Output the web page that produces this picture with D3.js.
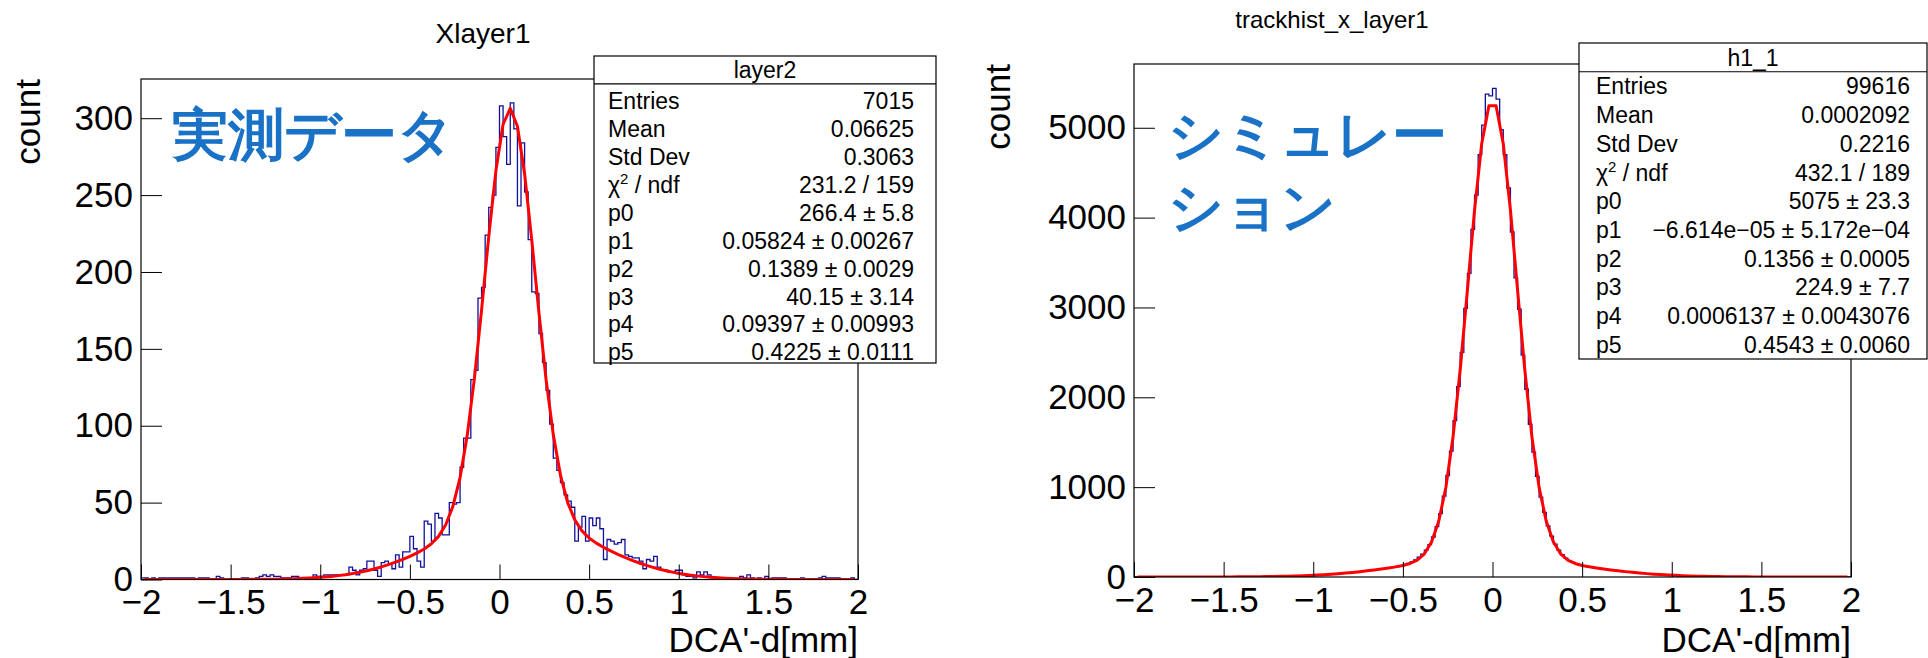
<!DOCTYPE html>
<html>
<head>
<meta charset="utf-8">
<script src="https://cdn.jsdelivr.net/npm/d3@7"></script>
<style>
  html, body { margin: 0; padding: 0; background: #ffffff; }
  svg { display: block; }
  text { font-family: "Liberation Sans", Arial, Helvetica, sans-serif; }
</style>
</head>
<body>
<svg id="chart" width="1928" height="658"></svg>
<script>
// ---------------- data ----------------
const binRange = [-2, 2];

// measured DCA'-d residuals, 200 bins over [-2, 2]
const measuredCounts = [
  1,1,0,1,0,1,1,1,1,1,
  1,1,1,1,1,0,1,1,1,0,
  0,2,1,0,0,0,0,0,1,1,
  0,0,1,2,3,2,3,2,2,1,
  1,1,2,2,1,1,1,1,3,2,
  2,3,3,3,3,3,3,3,8,6,
  3,6,7,12,12,6,2,11,12,10,
  7,16,8,18,18,28,20,12,8,38,
  36,25,43,40,29,29,50,49,50,73,
  92,92,130,136,183,190,224,242,250,281,
  308,288,270,310,293,243,284,252,221,187,
  186,160,141,123,101,79,71,63,55,51,
  47,25,34,41,25,40,35,40,33,13,
  26,25,23,24,26,16,15,14,14,12,
  7,13,12,15,8,6,6,5,5,6,
  6,3,2,2,1,5,3,5,3,1,
  1,0,1,1,1,0,0,2,1,3,
  1,0,1,0,2,0,1,1,1,1,
  0,0,0,0,1,0,0,0,0,1,
  2,1,1,1,1,0,0,0,1,0
];

// simulated DCA'-d residuals, 200 bins over [-2, 2]
const simulatedCounts = [
  0,0,0,0,0,0,0,0,0,0,
  0,0,0,0,1,0,0,0,0,1,
  1,0,0,1,0,1,1,1,2,1,
  2,2,2,3,3,4,4,5,6,7,
  7,8,9,10,11,13,14,15,17,19,
  21,23,25,27,28,33,36,39,43,46,
  49,54,57,63,66,71,75,81,85,90,
  96,101,110,117,126,138,150,168,190,220,
  255,300,360,445,560,705,900,1130,1400,1740,
  2120,2500,2990,3380,3870,4250,4700,5030,5375,5356,
  5438,5320,4980,4700,4330,3840,3330,2980,2470,2090,
  1700,1390,1120,890,720,570,455,365,300,250,
  210,182,163,147,134,124,117,108,102,97,
  90,86,80,75,72,66,61,58,53,50,
  46,42,40,36,33,30,28,25,23,21,
  19,17,16,14,13,11,10,9,8,7,
  6,6,5,4,4,3,3,2,2,2,
  1,2,1,1,1,0,1,0,0,1,
  0,0,1,0,0,0,0,0,0,0,
  0,0,0,0,0,0,0,1,0,0
];

const xTickValues = [-2, -1.5, -1, -0.5, 0, 0.5, 1, 1.5, 2];
const xTickLabels = ["\u22122", "\u22121.5", "\u22121", "\u22120.5", "0", "0.5", "1", "1.5", "2"];
const measuredYTicks = [0, 50, 100, 150, 200, 250, 300];
const simulatedYTicks = [0, 1000, 2000, 3000, 4000, 5000];

// double-gaussian fit parameters p0..p5
const measuredFit = [266.4, 0.05824, 0.1389, 40.15, 0.09397, 0.4225];
const simulatedFit = [5075, -6.614e-05, 0.1356, 224.9, 0.0006137, 0.4543];

const statsLabels = ["Entries", "Mean", "Std Dev", "chi2", "p0", "p1", "p2", "p3", "p4", "p5"];
const measuredStatsValues = ["7015", "0.06625", "0.3063", "231.2 / 159", "266.4 \u00b1 5.8",
  "0.05824 \u00b1 0.00267", "0.1389 \u00b1 0.0029", "40.15 \u00b1 3.14", "0.09397 \u00b1 0.00993", "0.4225 \u00b1 0.0111"];
const simulatedStatsValues = ["99616", "0.0002092", "0.2216", "432.1 / 189", "5075 \u00b1 23.3",
  "\u22126.614e\u221205 \u00b1 5.172e\u221204", "0.1356 \u00b1 0.0005", "224.9 \u00b1 7.7", "0.0006137 \u00b1 0.0043076", "0.4543 \u00b1 0.0060"];

// ---------------- drawing ----------------
const svg = d3.select("#chart");
svg.append("rect").attr("width", 1928).attr("height", 658).attr("fill", "#ffffff");

function doubleGauss(p, x) {
  const a = (x - p[1]) / p[2];
  const b = (x - p[4]) / p[5];
  return p[0] * Math.exp(-0.5 * a * a) + p[3] * Math.exp(-0.5 * b * b);
}

function drawPanel(cfg) {
  const g = svg.append("g");
  const counts = cfg.counts;
  const nb = counts.length;
  const bw = (binRange[1] - binRange[0]) / nb;

  const x = d3.scaleLinear().domain(binRange).range([cfg.left, cfg.right]);
  const y = d3.scaleLinear().domain([0, d3.max(counts) * 1.05]).range([cfg.bottom, cfg.top]);

  const clipId = "clip" + cfg.id;
  svg.append("clipPath").attr("id", clipId)
    .append("rect").attr("x", cfg.left).attr("y", cfg.top)
    .attr("width", cfg.right - cfg.left).attr("height", cfg.bottom - cfg.top);

  // title
  g.append("text").attr("x", cfg.titleX).attr("y", cfg.titleY)
    .attr("text-anchor", "middle").attr("font-size", cfg.titleSize).attr("fill", "#000")
    .text(cfg.title);

  // histogram outline (step contour)
  let d = `M${x(binRange[0])},${y(0)}`;
  counts.forEach((c, i) => {
    d += `V${y(c)}H${x(binRange[0] + (i + 1) * bw)}`;
  });
  d += `V${y(0)}`;
  g.append("path").attr("d", d).attr("clip-path", `url(#${clipId})`)
    .attr("fill", "none").attr("stroke", "#10109a").attr("stroke-width", 1.3);

  // fit curve evaluated at the centres of 100 equal steps across the axis range
  const npx = 100;
  const step = (binRange[1] - binRange[0]) / npx;
  const fx = d3.range(0, npx).map(k => binRange[0] + (k + 0.5) * step);
  const line = d3.line().x(v => x(v)).y(v => y(doubleGauss(cfg.fit, v)));
  g.append("path").attr("d", line(fx)).attr("clip-path", `url(#${clipId})`)
    .attr("fill", "none").attr("stroke", "#ff0000").attr("stroke-width", 3)
    .attr("stroke-linejoin", "round");

  // frame
  g.append("rect").attr("x", cfg.left).attr("y", cfg.top)
    .attr("width", cfg.right - cfg.left).attr("height", cfg.bottom - cfg.top)
    .attr("fill", "none").attr("stroke", "#000").attr("stroke-width", 1.2);

  // x axis: major and minor ticks pointing into the frame
  const xMinor = d3.range(-20, 21).map(k => k / 10);
  const xa = g.append("g").attr("transform", `translate(0,${cfg.bottom})`);
  xa.call(d3.axisBottom(x).tickValues(xMinor).tickSize(-7.5).tickFormat(""));
  xa.call(d3.axisBottom(x).tickValues(xTickValues).tickSize(-15).tickPadding(10)
    .tickFormat((v, i) => xTickLabels[i]));
  xa.select(".domain").remove();
  xa.selectAll("text").attr("font-size", 35).attr("fill", "#000")
    .attr("font-family", "'Liberation Sans', Arial, Helvetica, sans-serif");
  xa.selectAll("line").attr("stroke", "#000");

  // y axis
  const yMax = y.domain()[1];
  const yMinor = d3.range(0, yMax, cfg.yMinorStep);
  const ya = g.append("g").attr("transform", `translate(${cfg.left},0)`);
  ya.call(d3.axisLeft(y).tickValues(yMinor).tickSize(-10.5).tickFormat(""));
  ya.call(d3.axisLeft(y).tickValues(cfg.yTicks).tickSize(-21).tickPadding(8).tickFormat(d3.format("d")));
  ya.select(".domain").remove();
  ya.selectAll("text").attr("font-size", 35).attr("fill", "#000")
    .attr("font-family", "'Liberation Sans', Arial, Helvetica, sans-serif");
  ya.selectAll("line").attr("stroke", "#000");

  // axis titles
  g.append("text").attr("x", cfg.right).attr("y", cfg.xTitleY)
    .attr("text-anchor", "end").attr("font-size", 35).attr("fill", "#000")
    .text("DCA'-d[mm]");
  g.append("text")
    .attr("transform", `translate(${cfg.yTitleX},${cfg.top}) rotate(-90)`)
    .attr("text-anchor", "end").attr("font-size", 35).attr("fill", "#000")
    .text("count");

  // Japanese annotation
  const note = g.append("text").attr("x", cfg.noteX).attr("y", cfg.noteY)
    .attr("font-family", "'Noto Sans CJK JP', sans-serif").attr("font-weight", 700)
    .attr("font-size", cfg.noteSize).attr("fill", "#1a72c7");
  cfg.note.forEach((t, i) => {
    note.append("tspan").attr("x", cfg.noteX).attr("dy", i === 0 ? 0 : cfg.noteLead).text(t);
  });

  // statistics box
  const sb = cfg.stats;
  const bg = g.append("g");
  bg.append("rect").attr("x", sb.x0).attr("y", sb.y0)
    .attr("width", sb.x1 - sb.x0).attr("height", sb.y1 - sb.y0)
    .attr("fill", "#fff").attr("stroke", "#000").attr("stroke-width", 1.2);
  const rowH = (sb.y1 - sb.y0) / (statsLabels.length + 1);
  bg.append("line").attr("x1", sb.x0).attr("x2", sb.x1)
    .attr("y1", sb.y0 + rowH).attr("y2", sb.y0 + rowH)
    .attr("stroke", "#000").attr("stroke-width", 1.2);
  bg.append("text").attr("x", (sb.x0 + sb.x1) / 2).attr("y", sb.y0 + rowH * 0.5)
    .attr("dy", "0.36em").attr("text-anchor", "middle").attr("font-size", sb.font)
    .attr("fill", "#000").text(sb.name);
  statsLabels.forEach((lab, i) => {
    const cy = sb.y0 + rowH * (i + 1.5) + sb.shift;
    const t = bg.append("text").attr("x", sb.x0 + sb.padL).attr("y", cy).attr("dy", "0.36em")
      .attr("font-size", sb.font).attr("fill", "#000");
    if (lab === "chi2") {
      t.append("tspan").text("\u03c7");
      t.append("tspan").attr("font-size", sb.font * 0.65).attr("dy", -sb.font * 0.38).text("2");
      t.append("tspan").attr("dy", sb.font * 0.38).text(" / ndf");
    } else {
      t.text(lab);
    }
    bg.append("text").attr("x", sb.x1 - sb.padR).attr("y", cy).attr("dy", "0.36em")
      .attr("text-anchor", "end").attr("font-size", sb.font).attr("fill", "#000")
      .text(sb.values[i]);
  });
}

drawPanel({
  id: "meas", counts: measuredCounts, fit: measuredFit,
  left: 141, right: 858, top: 79, bottom: 579.5,
  yTicks: measuredYTicks, yMinorStep: 10,
  title: "Xlayer1", titleX: 483, titleY: 43, titleSize: 28,
  xTitleY: 652, yTitleX: 40,
  note: ["\u5b9f\u6e2c\u30c7\u30fc\u30bf"], noteX: 172, noteY: 154, noteSize: 56, noteLead: 0,
  stats: { x0: 594, x1: 936, y0: 56, y1: 363, name: "layer2", values: measuredStatsValues,
           font: 23, padL: 14, padR: 22, shift: 3 }
});

drawPanel({
  id: "sim", counts: simulatedCounts, fit: simulatedFit,
  left: 1134, right: 1851, top: 64, bottom: 577,
  yTicks: simulatedYTicks, yMinorStep: 200,
  title: "trackhist_x_layer1", titleX: 1332, titleY: 28, titleSize: 24,
  xTitleY: 652, yTitleX: 1010,
  note: ["\u30b7\u30df\u30e5\u30ec\u30fc", "\u30b7\u30e7\u30f3"], noteX: 1168, noteY: 154, noteSize: 55, noteLead: 72,
  stats: { x0: 1579, x1: 1927, y0: 43, y1: 359, name: "h1_1", values: simulatedStatsValues,
           font: 23, padL: 17, padR: 17, shift: 0 }
});
</script>
</body>
</html>
